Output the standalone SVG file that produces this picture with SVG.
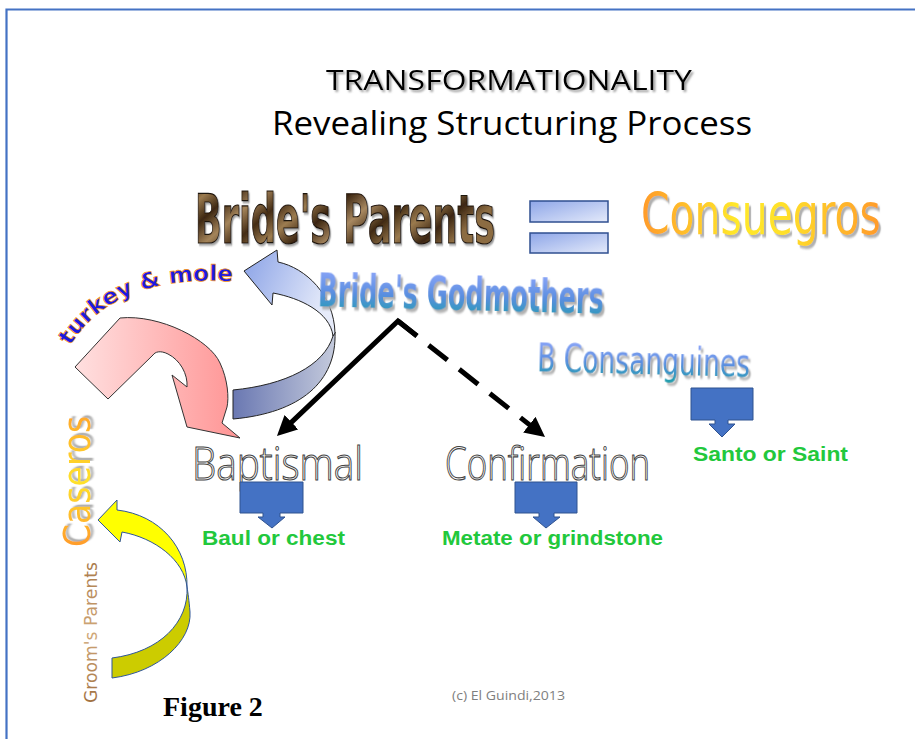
<svg xmlns="http://www.w3.org/2000/svg" width="915" height="739" viewBox="0 0 915 739">
<style>
.title{font-family:"Open Sans","Noto Sans",sans-serif;fill:#000}
.cond{font-family:"DejaVu Sans Condensed","DejaVu Sans",sans-serif;font-weight:bold}
.comic{font-family:"DejaVu Sans","Noto Sans",sans-serif}
.outline{font-family:"Open Sans","Liberation Sans",sans-serif;fill:#fff;stroke:#444;stroke-width:1.1}
.green{font-family:"Liberation Sans",Arial,sans-serif;font-weight:bold;font-size:19.5px;fill:#22c83c}
.block{fill:#4472c4;stroke:#2f528f;stroke-width:1}
.conn{fill:none;stroke:#000;stroke-width:5}
</style>
<defs>
<filter id="sh" x="-10%" y="-30%" width="120%" height="170%"><feDropShadow dx="2" dy="2" stdDeviation="1" flood-color="#808080" flood-opacity="0.8"/></filter>
<filter id="sh3" x="-10%" y="-30%" width="120%" height="170%"><feDropShadow dx="3" dy="3" stdDeviation="0.8" flood-color="#a8a8a8" flood-opacity="0.9"/></filter>
<marker id="ah" viewBox="0 0 10 10" refX="1" refY="5" markerWidth="4" markerHeight="4" orient="auto" markerUnits="strokeWidth"><path d="M0,0 L10,5 L0,10 z" fill="#000"/></marker>
<linearGradient id="brown" x1="0" y1="0" x2="1" y2="0.3">
<stop offset="0" stop-color="#3a2410"/><stop offset="0.08" stop-color="#9a7a4e"/><stop offset="0.16" stop-color="#3e2812"/><stop offset="0.25" stop-color="#a4845a"/><stop offset="0.34" stop-color="#442c14"/><stop offset="0.43" stop-color="#9c7c50"/><stop offset="0.52" stop-color="#3a2410"/><stop offset="0.62" stop-color="#a88860"/><stop offset="0.72" stop-color="#402a12"/><stop offset="0.82" stop-color="#9a7a4e"/><stop offset="0.91" stop-color="#3c2612"/><stop offset="1" stop-color="#8c6c42"/>
</linearGradient>
<linearGradient id="orange" x1="0" y1="0" x2="1" y2="0">
<stop offset="0" stop-color="#ff9a2a"/><stop offset="0.4" stop-color="#ffe82a"/><stop offset="0.6" stop-color="#ffe02a"/><stop offset="1" stop-color="#ff9a2a"/>
</linearGradient>
<linearGradient id="orangeV" x1="0" y1="0" x2="1" y2="0">
<stop offset="0" stop-color="#ff9a2a"/><stop offset="0.5" stop-color="#ffe22a"/><stop offset="1" stop-color="#ffa82a"/>
</linearGradient>
<linearGradient id="blueteal" x1="0" y1="0" x2="0" y2="1">
<stop offset="0" stop-color="#9aacff"/><stop offset="0.55" stop-color="#5a8ee0"/><stop offset="1" stop-color="#1aa0a8"/>
</linearGradient>
<linearGradient id="eqg" x1="0" y1="0" x2="1" y2="1">
<stop offset="0" stop-color="#8ea6e8"/><stop offset="1" stop-color="#e4eafa"/>
</linearGradient>
<linearGradient id="pink" x1="0" y1="0" x2="1" y2="0">
<stop offset="0" stop-color="#ffe0e0"/><stop offset="1" stop-color="#ff9494"/>
</linearGradient>
<linearGradient id="blueUp" x1="0" y1="0" x2="1" y2="0.4">
<stop offset="0" stop-color="#8aa2e6"/><stop offset="1" stop-color="#e6ebfa"/>
</linearGradient>
<linearGradient id="blueLow" x1="0" y1="0" x2="1" y2="0">
<stop offset="0" stop-color="#6a78b2"/><stop offset="1" stop-color="#c4cadc"/>
</linearGradient>
<linearGradient id="brownV" x1="0" y1="0" x2="1" y2="0">
<stop offset="0" stop-color="#a07040"/><stop offset="0.5" stop-color="#d0a878"/><stop offset="1" stop-color="#a87848"/>
</linearGradient>
<path id="tmArc" d="M70,346 Q115,272 238,282"/>
</defs>
<rect width="915" height="739" fill="#fff"/>
<g id="frame" fill="none" stroke="#4472c4" stroke-width="2.2">
<path d="M6.5,739 L6.5,9.5 L915,9.5"/>
</g>
<g id="title">
<text class="title" x="509" y="90" font-size="26.5" text-anchor="middle" textLength="366" lengthAdjust="spacingAndGlyphs" filter="url(#sh)">TRANSFORMATIONALITY</text>
<text class="title" x="512" y="135" font-size="32.5" text-anchor="middle" textLength="480" lengthAdjust="spacingAndGlyphs">Revealing Structuring Process</text>
</g>
<g id="brides-parents" transform="translate(195,243) scale(0.6,1)">
<text class="cond" x="0" y="0" font-size="68" fill="url(#brown)" stroke="#1e1208" stroke-width="1.2" textLength="500" lengthAdjust="spacingAndGlyphs" filter="url(#sh)">Bride's Parents</text>
</g>
<g id="equals" fill="url(#eqg)" stroke="#2f4f90" stroke-width="1.5">
<rect x="530" y="201" width="78" height="21"/>
<rect x="530" y="233" width="78" height="20"/>
</g>
<g id="consuegros" transform="translate(641,234) scale(0.714,1)">
<text class="comic" x="0" y="0" font-size="57" fill="url(#orange)" textLength="336" lengthAdjust="spacingAndGlyphs" filter="url(#sh3)">Consuegros</text>
</g>
<g id="turkey-mole">
<text class="comic" font-size="22" font-weight="bold" fill="#1a1ae0" stroke="#ff9a10" stroke-width="0.7"><textPath href="#tmArc" textLength="185" lengthAdjust="spacingAndGlyphs">turkey &amp; mole</textPath></text>
</g>
<g id="pink-arrow">
<path d="M75,367 L120,318 C160,314 210,340 220,363 C228,380 229,398 227,407 L222,423 L240,438 L187,427 L172,375 L187,387 C188,374 180,360 168,354 C160,350 155,352 153,355 L108,399 Z" fill="url(#pink)" stroke="#333" stroke-width="1"/>
</g>
<g id="blue-arrow" stroke="#222" stroke-width="1">
<path d="M335,332 C337,382 300,413 233,419 L233,390 C285,385 324,366 333,336 Z" fill="url(#blueLow)"/>
<path d="M335,333 C334,295 306,268 278,262 L277,250 L244,271 L272,305 L273,293 C300,298 330,312 333,336 Z" fill="url(#blueUp)"/>
</g>
<g id="brides-godmothers" transform="rotate(1.5 460 300) translate(318,310) scale(0.75,1)">
<text class="cond" x="0" y="0" font-size="47" fill="url(#blueteal)" textLength="381" lengthAdjust="spacingAndGlyphs" filter="url(#sh3)">Bride's Godmothers</text>
</g>
<g id="b-consanguines" transform="rotate(1.5 640 370) translate(537,374) scale(0.8,1)">
<text class="comic" x="0" y="0" font-size="39" fill="url(#blueteal)" textLength="266" lengthAdjust="spacingAndGlyphs" filter="url(#sh3)">B Consanguines</text>
</g>
<g id="connectors">
<path class="conn" d="M417,336 L398,321 L290,423.6" stroke-linejoin="miter" marker-end="url(#ah)"/>
<path class="conn" d="M398,321 L530.9,425.9" stroke-dasharray="24,15" marker-end="url(#ah)"/>
</g>
<g id="baptismal">
<g transform="translate(192,480) scale(0.75,1)">
<text class="outline" x="0" y="0" font-size="46" font-weight="300" textLength="228" lengthAdjust="spacingAndGlyphs">Baptismal</text>
</g>
<path class="block" d="M240,482 H303 V513 H280 V517 H285 L272,528 L258,517 H263 V513 H240 Z"/>
<text class="green" x="202" y="545" textLength="143" lengthAdjust="spacingAndGlyphs">Baul or chest</text>
</g>
<g id="confirmation">
<g transform="translate(445,480) scale(0.7,1)">
<text class="outline" x="0" y="0" font-size="46" font-weight="300" textLength="293" lengthAdjust="spacingAndGlyphs">Confirmation</text>
</g>
<path class="block" d="M515,482 H577 V513 H554 V517 H560 L546,528 L533,517 H539 V513 H515 Z"/>
<text class="green" x="442" y="545" textLength="221" lengthAdjust="spacingAndGlyphs">Metate or grindstone</text>
</g>
<g id="santo">
<path class="block" d="M691,388 H753 V420 H728 V424 H735 L722,437 L709,424 H715 V420 H691 Z"/>
<text class="green" x="693" y="461" textLength="155" lengthAdjust="spacingAndGlyphs">Santo or Saint</text>
</g>
<g id="caseros" transform="translate(90,547) rotate(-90) scale(0.75,1)">
<text class="comic" x="0" y="0" font-size="38" fill="url(#orangeV)" textLength="175" lengthAdjust="spacingAndGlyphs" filter="url(#sh3)">Caseros</text>
</g>
<g id="grooms-parents" transform="translate(97,703) rotate(-90)">
<text class="comic" x="0" y="0" font-size="18" fill="url(#brownV)" textLength="141" lengthAdjust="spacingAndGlyphs">Groom's Parents</text>
</g>
<g id="yellow-arrow" stroke="#2f5597" stroke-width="1">
<path d="M187,587 C189,622 160,652 112,658 L112,678 C160,672 192,640 190,612 C189,600 188,593 187,587 Z" fill="#cccc00"/>
<path d="M187,587 C184,560 155,538 122,532 L120,542 L98,520 L117,500 L117,510 C160,515 188,548 187,587 Z" fill="#ffff00"/>
</g>
<g id="footer">
<text x="163" y="716" font-family="'Liberation Serif','Times New Roman',serif" font-weight="bold" font-size="28" fill="#000">Figure 2</text>
<text x="452" y="700" font-family="'Open Sans','Noto Sans',sans-serif" font-size="12.5" fill="#7f7f7f" textLength="113" lengthAdjust="spacingAndGlyphs">(c) El Guindi,2013</text>
</g>
</svg>
